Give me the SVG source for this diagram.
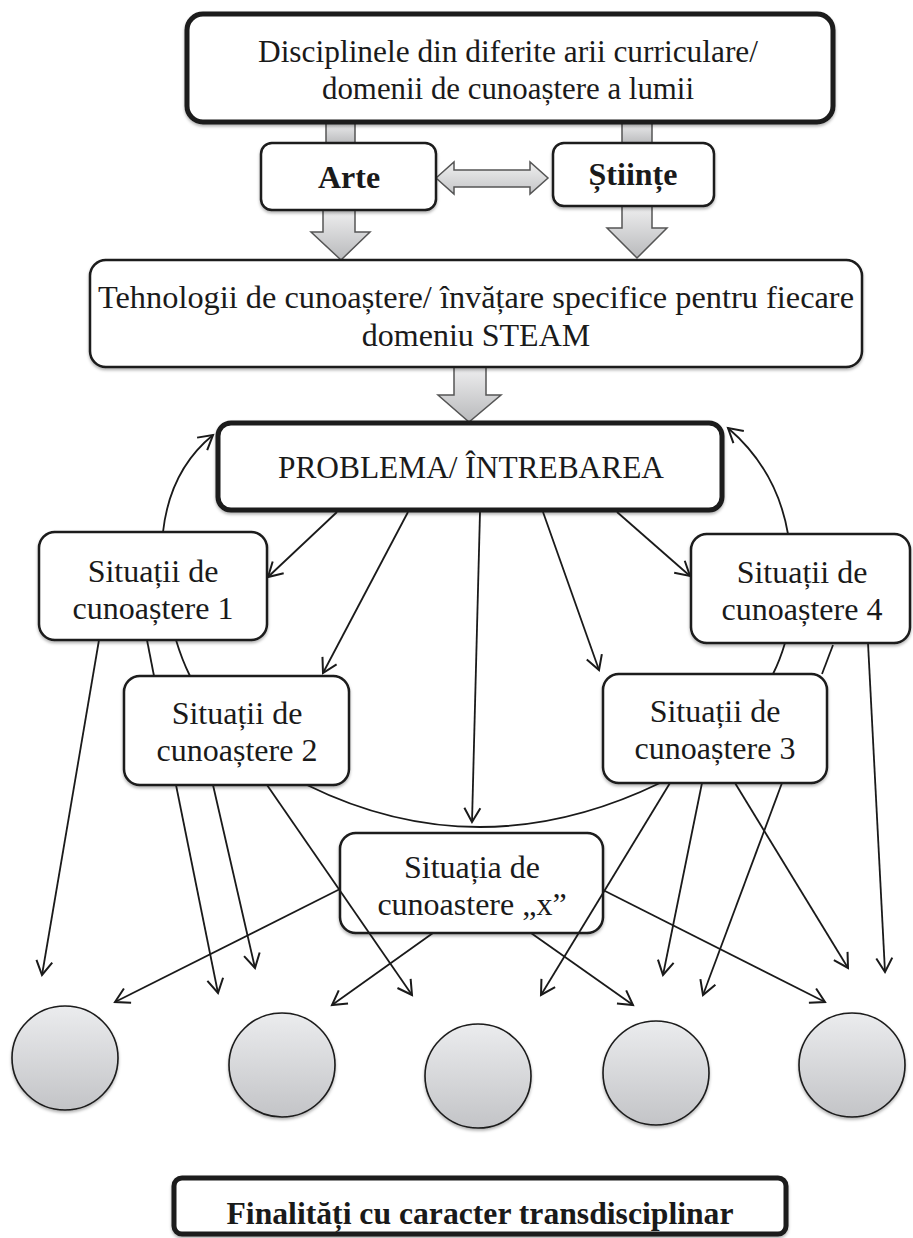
<svg xmlns="http://www.w3.org/2000/svg" width="913" height="1238" viewBox="0 0 913 1238">
<style>
text{font-family:"Liberation Serif","Times New Roman",serif;fill:#1a1a1a;text-anchor:middle}
.t{font-size:32px}
.b{font-size:32px;font-weight:bold}
.box{fill:#fff;stroke:#1a1a1a;stroke-width:2.5;filter:url(#sh)}
.thick{fill:#fff;stroke:#1a1a1a;stroke-width:5;filter:url(#sh)}
.blk{fill:url(#bg);stroke:#555;stroke-width:1.5;stroke-linejoin:miter}
.ln{fill:none;stroke:#1a1a1a;stroke-width:1.8}
.arr{marker-end:url(#ah)}
.circ{fill:url(#cg);stroke:#1a1a1a;stroke-width:1.6;filter:url(#sh)}
</style>
<defs>
<filter id="sh" x="-10%" y="-10%" width="120%" height="130%"><feDropShadow dx="0" dy="2" stdDeviation="1.5" flood-color="#000" flood-opacity="0.3"/></filter>
<linearGradient id="bg" x1="0" y1="0" x2="0" y2="1"><stop offset="0" stop-color="#eeeeef"/><stop offset="1" stop-color="#b9babc"/></linearGradient>
<linearGradient id="bgh" x1="0" y1="0" x2="0" y2="1"><stop offset="0" stop-color="#f0f0f0"/><stop offset="1" stop-color="#c4c5c7"/></linearGradient>
<linearGradient id="cg" x1="0" y1="0" x2="0" y2="1"><stop offset="0" stop-color="#ebecee"/><stop offset="1" stop-color="#c3c4c7"/></linearGradient>
<marker id="ah" viewBox="-16 -10 20 20" refX="0" refY="0" markerWidth="20" markerHeight="20" markerUnits="userSpaceOnUse" orient="auto"><path d="M-14,-8 L0,0 L-14,8" fill="none" stroke="#1a1a1a" stroke-width="2"/></marker>
</defs>

<g id="block-arrows">
<rect class="blk" x="326" y="122" width="29" height="22"/>
<rect class="blk" x="622" y="122" width="30" height="22"/>
<polygon class="blk" points="323,210 355,210 355,232 370,232 341,260 311,232 323,232"/>
<polygon class="blk" points="622,206 652,206 652,228 667,228 637,258 607,228 622,228"/>
<polygon class="blk" points="454,367 486,367 486,395 501,395 469,422 438,395 454,395"/>
<polygon fill="url(#bgh)" stroke="#555" stroke-width="1.5" points="436,178 454,162 454,170 530,170 530,162 548,178 530,194 530,187 454,187 454,194"/>
</g>

<g id="n-top">
<rect class="thick" x="187" y="14" width="646" height="108" rx="16"/>
<text class="t" x="508" y="62" textLength="500" lengthAdjust="spacingAndGlyphs">Disciplinele din diferite arii curriculare/</text>
<text class="t" x="508" y="99" textLength="372" lengthAdjust="spacingAndGlyphs">domenii de cunoaștere a lumii</text>
</g>
<g id="n-arte">
<rect class="box" x="261" y="143" width="175" height="67" rx="11"/>
<text class="b" x="349" y="188">Arte</text>
</g>
<g id="n-stiinte">
<rect class="box" x="553" y="143" width="161" height="63" rx="11"/>
<text class="b" x="633" y="185">Științe</text>
</g>
<g id="n-tehno">
<rect class="box" x="90" y="260" width="772" height="107" rx="16"/>
<text class="t" x="476" y="308" textLength="756" lengthAdjust="spacingAndGlyphs">Tehnologii de cunoaștere/ învățare specifice pentru fiecare</text>
<text class="t" x="476" y="346">domeniu STEAM</text>
</g>
<g id="n-problema">
<rect class="thick" x="218" y="423" width="504" height="87" rx="13"/>
<text class="t" x="471" y="478" textLength="386" lengthAdjust="spacingAndGlyphs">PROBLEMA/ ÎNTREBAREA</text>
</g>
<g id="n-sit1">
<rect class="box" x="39" y="532" width="228" height="108" rx="16"/>
<text class="t" x="153" y="582">Situații de</text>
<text class="t" x="153" y="619">cunoaștere 1</text>
</g>
<g id="n-sit4">
<rect class="box" x="691" y="534" width="219" height="109" rx="16"/>
<text class="t" x="802" y="583">Situații de</text>
<text class="t" x="802" y="620">cunoaștere 4</text>
</g>
<g id="n-sit2">
<rect class="box" x="124" y="676" width="225" height="109" rx="16"/>
<text class="t" x="237" y="724">Situații de</text>
<text class="t" x="237" y="761">cunoaștere 2</text>
</g>
<g id="n-sit3">
<rect class="box" x="603" y="674" width="224" height="109" rx="16"/>
<text class="t" x="715" y="722">Situații de</text>
<text class="t" x="715" y="759">cunoaștere 3</text>
</g>
<g id="n-sitx">
<rect class="box" x="340" y="833" width="263" height="100" rx="16"/>
<text class="t" x="472" y="878">Situația de</text>
<text class="t" x="472" y="915">cunoastere „x”</text>
</g>
<g id="n-c1"><ellipse class="circ" cx="65" cy="1058" rx="53" ry="52"/></g>
<g id="n-c2"><ellipse class="circ" cx="282" cy="1065" rx="53" ry="52"/></g>
<g id="n-c3"><ellipse class="circ" cx="478" cy="1076" rx="53" ry="52"/></g>
<g id="n-c4"><ellipse class="circ" cx="656" cy="1073" rx="53" ry="52"/></g>
<g id="n-c5"><ellipse class="circ" cx="852" cy="1065" rx="53" ry="52"/></g>
<g id="n-final">
<rect class="thick" x="174" y="1178" width="612" height="56" rx="8"/>
<text class="b" x="480" y="1224" textLength="507" lengthAdjust="spacingAndGlyphs">Finalități cu caracter transdisciplinar</text>
</g>

<g id="connectors">
<line class="ln arr" x1="337" y1="512" x2="268" y2="577"/>
<line class="ln arr" x1="408" y1="512" x2="323" y2="673"/>
<line class="ln arr" x1="480" y1="512" x2="472" y2="822"/>
<line class="ln arr" x1="543" y1="512" x2="599" y2="670"/>
<line class="ln arr" x1="617" y1="512" x2="690" y2="576"/>
<path class="ln arr" d="M163,532 Q170,470 213,435"/>
<path class="ln arr" d="M788,534 Q777,470 728,428"/>
<path class="ln" d="M176,640 Q182,660 190,676"/>
<path class="ln" d="M785,643 Q780,660 773,674"/>
<path class="ln" d="M307,785 Q480,870 660,783"/>
<line class="ln arr" x1="99" y1="640" x2="42" y2="975"/>
<line class="ln" x1="147" y1="640" x2="154" y2="676"/>
<line class="ln arr" x1="176" y1="785" x2="218" y2="993"/>
<line class="ln arr" x1="213" y1="785" x2="255" y2="968"/>
<line class="ln arr" x1="267" y1="785" x2="412" y2="995"/>
<line class="ln arr" x1="340" y1="889" x2="115" y2="1002"/>
<line class="ln arr" x1="433" y1="933" x2="332" y2="1005"/>
<line class="ln arr" x1="531" y1="933" x2="633" y2="1005"/>
<line class="ln arr" x1="603" y1="890" x2="825" y2="1002"/>
<line class="ln arr" x1="670" y1="783" x2="541" y2="995"/>
<line class="ln arr" x1="702" y1="783" x2="663" y2="975"/>
<line class="ln" x1="833" y1="645" x2="822" y2="674"/>
<line class="ln arr" x1="782" y1="783" x2="703" y2="995"/>
<line class="ln arr" x1="735" y1="783" x2="848" y2="968"/>
<line class="ln arr" x1="868" y1="643" x2="885" y2="972"/>
</g>
</svg>
